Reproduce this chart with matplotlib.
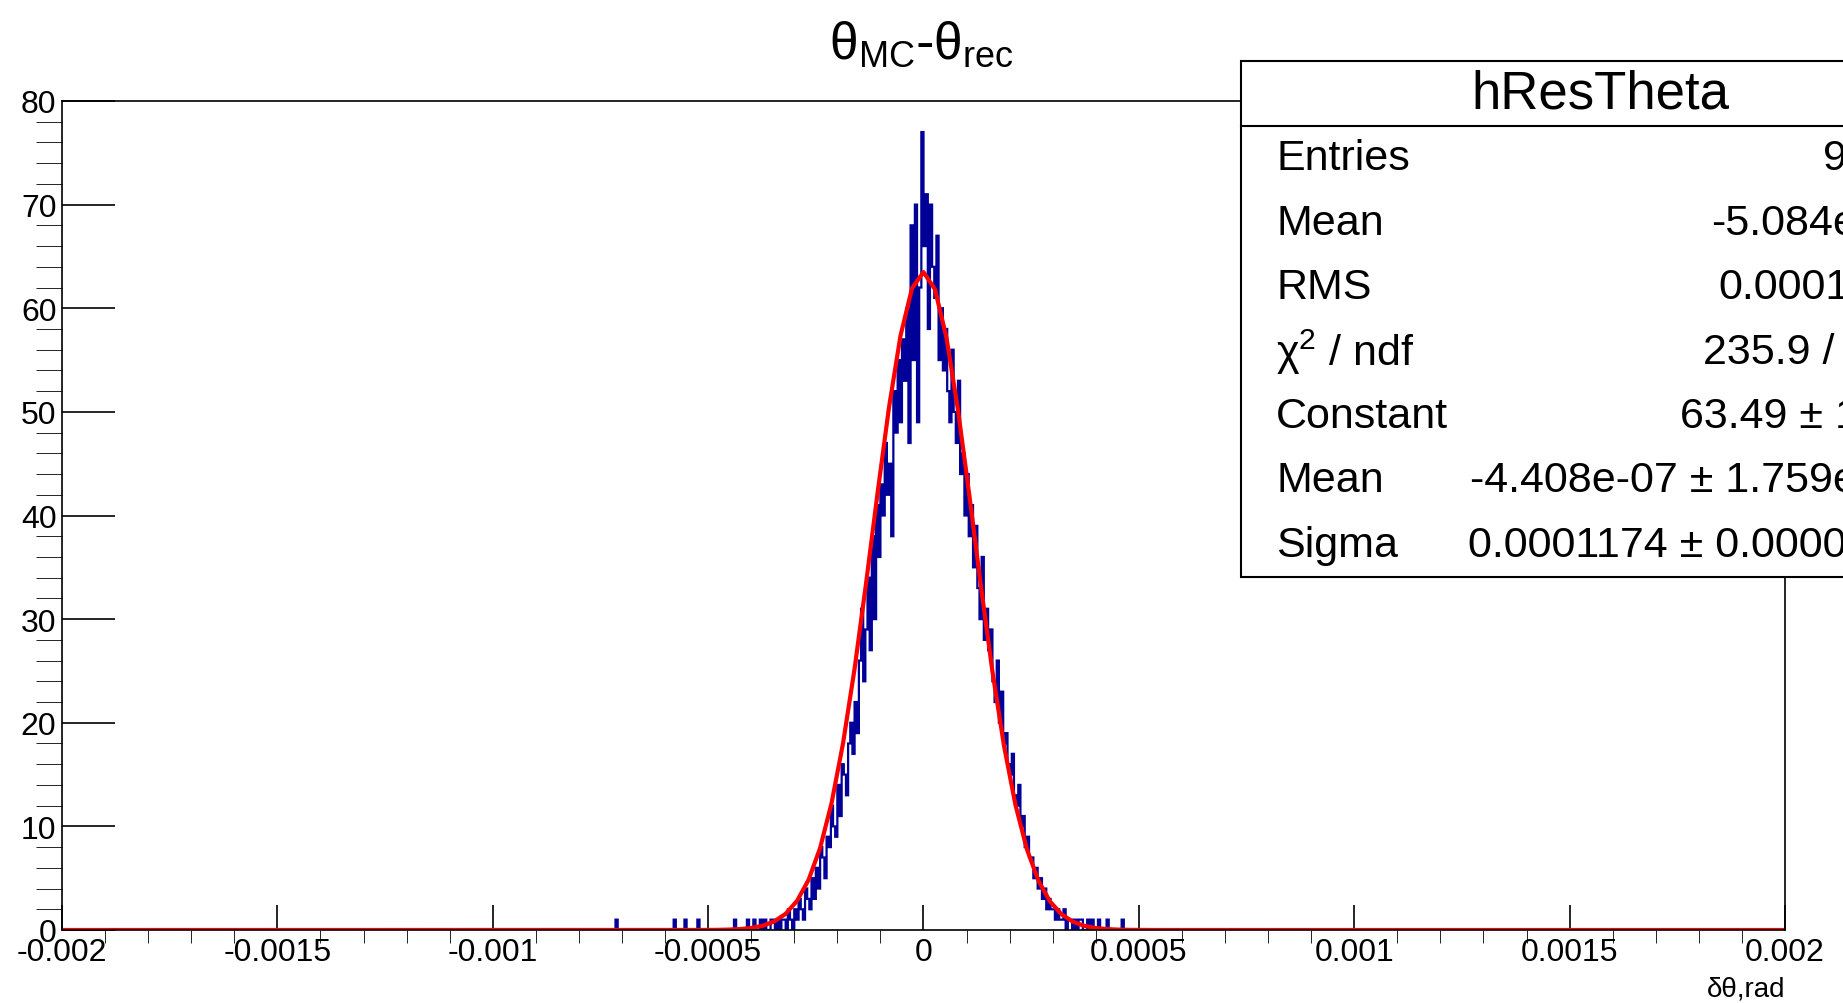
import numpy as np
import matplotlib
matplotlib.use("Agg")
import matplotlib.pyplot as plt

plt.rcParams['font.family'] = ['Liberation Sans', 'DejaVu Sans']

# histogram: 800 bins over [-0.002, 0.002]; non-empty region starts at -0.0005
n_bins = 800
x_min, x_max = -0.002, 0.002
core_start = -0.0005
core_counts = [
    0, 0, 0, 0, 0, 0, 0, 0, 0, 0,
    0, 0, 1, 0, 0, 0, 0, 0, 1, 0,
    0, 1, 0, 0, 1, 0, 1, 0, 0, 1,
    1, 0, 1, 0, 1, 1, 0, 2, 1, 0,
    2, 1, 3, 2, 1, 4, 3, 2, 5, 3,
    6, 4, 8, 7, 5, 9, 8, 12, 10, 9,
    14, 11, 16, 15, 13, 18, 20, 17, 22, 19,
    26, 31, 24, 29, 34, 27, 38, 30, 41, 36,
    43, 40, 47, 42, 45, 38, 52, 48, 55, 49,
    57, 53, 60, 47, 68, 55, 70, 49, 62, 77,
    66, 71, 58, 70, 64, 61, 67, 55, 60, 54,
    58, 52, 49, 56, 50, 47, 53, 44, 46, 40,
    44, 38, 41, 35, 39, 33, 30, 36, 28, 31,
    27, 29, 24, 22, 26, 20, 23, 18, 19, 16,
    15, 17, 13, 12, 14, 10, 11, 8, 9, 7,
    7, 5, 6, 4, 5, 3, 4, 2, 3, 2,
    2, 1, 2, 1, 1, 2, 0, 1, 1, 0,
    1, 0, 1, 1, 0, 0, 1, 0, 1, 0,
    0, 1, 0, 0, 0, 1, 0, 0, 0, 0,
    0, 0, 1, 0, 0, 0, 0, 0, 0, 0,
]
outlier_x = [-0.000712, -0.000578, -0.000552, -0.000522]
outlier_n = [1, 1, 1, 1]

# gaussian fit parameters (from stats box)
fit_const = 63.49
fit_mean = -4.408e-07
fit_sigma = 0.0001174

x_ticks = [-0.002, -0.0015, -0.001, -0.0005, 0, 0.0005, 0.001, 0.0015, 0.002]
x_tick_labels = ["-0.002", "-0.0015", "-0.001", "-0.0005", "0", "0.0005", "0.001", "0.0015", "0.002"]

stat_names = ["Entries", "Mean", "RMS", r"$\mathregular{\chi^{2}}$ / ndf", "Constant", "Mean", "Sigma"]
stat_values = ["9879", "-5.084e-07", "0.0001188", "235.9 / 143",
               "63.49 ± 1.04", "-4.408e-07 ± 1.759e-06", "0.0001174 ± 0.0000019"]

edges = np.linspace(x_min, x_max, n_bins + 1)
bw = edges[1] - edges[0]
counts = np.zeros(n_bins)
i0 = int(round((core_start - x_min) / bw))
counts[i0:i0 + len(core_counts)] = core_counts
for xo, no in zip(outlier_x, outlier_n):
    counts[int((xo - x_min) / bw)] += no

fig = plt.figure(figsize=(18.43, 10.04), dpi=100)
ax = fig.add_axes([62 / 1843, 1 - 931 / 1004, (1785 - 62) / 1843, (931 - 102) / 1004])

ax.stairs(counts, edges, color="#000099", linewidth=1.6)

xf = np.linspace(x_min, x_max, 151)
yf = fit_const * np.exp(-0.5 * ((xf - fit_mean) / fit_sigma) ** 2)
ax.plot(xf, yf, color="red", linewidth=3)

ax.set_xlim(x_min, x_max)
ax.set_ylim(0, 80)
ax.set_xticks(x_ticks)
ax.set_xticklabels(x_tick_labels)
ax.set_xticks(np.arange(-0.002, 0.00201, 0.0001), minor=True)
ax.set_yticks(np.arange(0, 81, 10))
ax.set_yticks(np.arange(0, 81, 2), minor=True)
ax.tick_params(axis="both", direction="in", labelsize=23, width=1.2)
ax.tick_params(axis="x", which="major", length=18, pad=5)
ax.tick_params(axis="x", which="minor", length=9)
ax.tick_params(axis="y", which="major", length=38, pad=4)
ax.tick_params(axis="y", which="minor", length=19)
ax.tick_params(right=False, top=False)
for s in ax.spines.values():
    s.set_linewidth(1.2)

ax.text(1.0, -0.055, "δθ,rad", transform=ax.transAxes, ha="right", va="top", fontsize=20)

fig.text(0.5, 0.955, r"$\mathregular{θ_{MC}\text{-}θ_{rec}}$", ha="center", va="center", fontsize=37)

# stats box
bx0, by0, by1 = 1241 / 1843, 1 - 578 / 1004, 1 - 62 / 1004
bx1 = 1.045
fig.patches.append(plt.Rectangle((bx0, by0), bx1 - bx0, by1 - by0, transform=fig.transFigure,
                                 facecolor="white", edgecolor="black", linewidth=1.5, zorder=5))
hy = 1 - 127 / 1004
fig.add_artist(plt.Line2D([bx0, bx1], [hy, hy], transform=fig.transFigure, color="black", linewidth=1.5, zorder=6))
fig.text(1600 / 1843, (by1 + hy) / 2, "hResTheta", ha="center", va="center", fontsize=38, zorder=7)
row_h = (hy - by0) / len(stat_names)
for k, (nm, val) in enumerate(zip(stat_names, stat_values)):
    yy = hy - row_h * (k + 0.5)
    fig.text(1276 / 1843, yy, nm, ha="left", va="center", fontsize=31, zorder=7)
    fig.text(bx1 - 0.004, yy, val, ha="right", va="center", fontsize=31, zorder=7)

fig.savefig("out.png", dpi=100)
